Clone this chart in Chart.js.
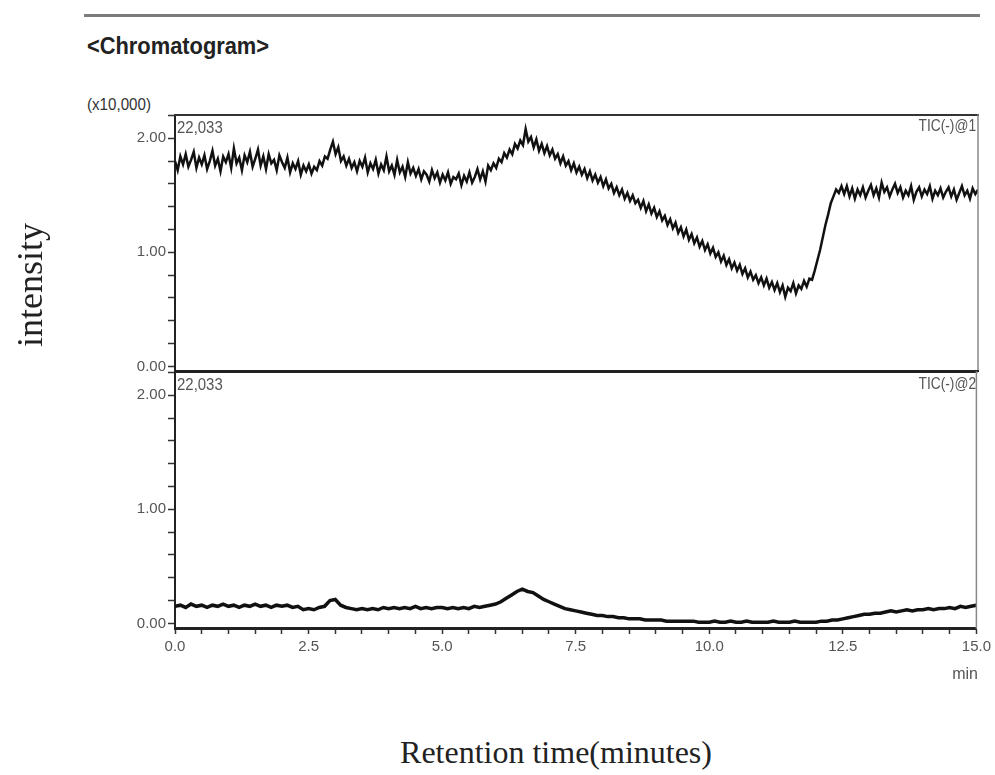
<!DOCTYPE html>
<html>
<head>
<meta charset="utf-8">
<script src="https://cdn.jsdelivr.net/npm/chart.js@4.4.1/dist/chart.umd.min.js"></script>
<style>
  html, body { margin:0; padding:0; background:#fff; }
  body { width:995px; height:775px; position:relative; overflow:hidden;
         font-family:'Liberation Sans',Arial,sans-serif; }
  .t { position:absolute; white-space:nowrap; }
  canvas { position:absolute; left:0; }
  #rule { position:absolute; left:84px; top:14px; width:896px; height:3px; background:#7c7c7c; }
  #title { left:87px; top:34px; font-size:24px; line-height:24px; font-weight:bold; color:#222;
           transform:scaleX(0.91); transform-origin:left center; }
  #mult { left:87px; top:96px; font-size:17px; line-height:17px; color:#333;
          transform:scaleX(0.89); transform-origin:left center; }
  .lab { font-size:17px; line-height:17px; color:#555; z-index:3; }
  .labl { transform:scaleX(0.88); transform-origin:left center; }
  .labr { transform:scaleX(0.81); transform-origin:right center; }
  #ylab { left:30px; top:285px; font-family:'Liberation Serif','Times New Roman',serif; font-size:36px; line-height:36px;
          color:#222; transform:translate(-50%,-50%) rotate(-90deg); }
  #xlab { left:556px; top:736px; font-family:'Liberation Serif','Times New Roman',serif; font-size:32px; line-height:32px;
          color:#222; transform:translateX(-50%); }
  #min { right:17px; top:666px; font-size:16px; line-height:16px; color:#555; }
</style>
</head>
<body>
<div id="rule"></div>
<div class="t" id="title">&lt;Chromatogram&gt;</div>
<div class="t" id="mult">(x10,000)</div>
<canvas id="c1" width="995" height="285" style="top:100px"></canvas>
<canvas id="c2" width="995" height="330" style="top:360px"></canvas>
<div class="t lab labl" style="left:177px; top:119px">22,033</div>
<div class="t lab labr" style="right:19px; top:117px">TIC(-)@1</div>
<div class="t lab labl" style="left:177px; top:376px">22,033</div>
<div class="t lab labr" style="right:19px; top:375px">TIC(-)@2</div>
<div class="t" id="min">min</div>
<div class="t" id="ylab">intensity</div>
<div class="t" id="xlab">Retention time(minutes)</div>
<script>
// Retention time (minutes) for TIC(-)@1, every 0.05 min
const times1 = [
  0,0.05,0.1,0.15,0.2,0.25,0.3,0.35,0.4,0.45,
  0.5,0.55,0.6,0.65,0.7,0.75,0.8,0.85,0.9,0.95,
  1,1.05,1.1,1.15,1.2,1.25,1.3,1.35,1.4,1.45,
  1.5,1.55,1.6,1.65,1.7,1.75,1.8,1.85,1.9,1.95,
  2,2.05,2.1,2.15,2.2,2.25,2.3,2.35,2.4,2.45,
  2.5,2.55,2.6,2.65,2.7,2.75,2.8,2.85,2.9,2.95,
  3,3.05,3.1,3.15,3.2,3.25,3.3,3.35,3.4,3.45,
  3.5,3.55,3.6,3.65,3.7,3.75,3.8,3.85,3.9,3.95,
  4,4.05,4.1,4.15,4.2,4.25,4.3,4.35,4.4,4.45,
  4.5,4.55,4.6,4.65,4.7,4.75,4.8,4.85,4.9,4.95,
  5,5.05,5.1,5.15,5.2,5.25,5.3,5.35,5.4,5.45,
  5.5,5.55,5.6,5.65,5.7,5.75,5.8,5.85,5.9,5.95,
  6,6.05,6.1,6.15,6.2,6.25,6.3,6.35,6.4,6.45,
  6.5,6.55,6.6,6.65,6.7,6.75,6.8,6.85,6.9,6.95,
  7,7.05,7.1,7.15,7.2,7.25,7.3,7.35,7.4,7.45,
  7.5,7.55,7.6,7.65,7.7,7.75,7.8,7.85,7.9,7.95,
  8,8.05,8.1,8.15,8.2,8.25,8.3,8.35,8.4,8.45,
  8.5,8.55,8.6,8.65,8.7,8.75,8.8,8.85,8.9,8.95,
  9,9.05,9.1,9.15,9.2,9.25,9.3,9.35,9.4,9.45,
  9.5,9.55,9.6,9.65,9.7,9.75,9.8,9.85,9.9,9.95,
  10,10.05,10.1,10.15,10.2,10.25,10.3,10.35,10.4,10.45,
  10.5,10.55,10.6,10.65,10.7,10.75,10.8,10.85,10.9,10.95,
  11,11.05,11.1,11.15,11.2,11.25,11.3,11.35,11.4,11.45,
  11.5,11.55,11.6,11.65,11.7,11.75,11.8,11.85,11.9,11.95,
  12,12.05,12.1,12.15,12.2,12.25,12.3,12.35,12.4,12.45,
  12.5,12.55,12.6,12.65,12.7,12.75,12.8,12.85,12.9,12.95,
  13,13.05,13.1,13.15,13.2,13.25,13.3,13.35,13.4,13.45,
  13.5,13.55,13.6,13.65,13.7,13.75,13.8,13.85,13.9,13.95,
  14,14.05,14.1,14.15,14.2,14.25,14.3,14.35,14.4,14.45,
  14.5,14.55,14.6,14.65,14.7,14.75,14.8,14.85,14.9,14.95,
  15
];
// TIC(-)@1 intensity (x10,000)
const tic1 = [
  1.80,1.72,1.84,1.77,1.86,1.75,1.81,1.88,1.74,1.83,
  1.77,1.85,1.73,1.80,1.89,1.76,1.82,1.71,1.84,1.79,
  1.86,1.74,1.91,1.78,1.83,1.72,1.85,1.79,1.88,1.75,
  1.82,1.90,1.76,1.84,1.73,1.86,1.78,1.81,1.72,1.85,
  1.79,1.74,1.83,1.70,1.78,1.73,1.80,1.68,1.76,1.71,
  1.77,1.69,1.75,1.72,1.80,1.76,1.84,1.82,1.90,1.97,
  1.86,1.92,1.80,1.84,1.76,1.82,1.74,1.79,1.71,1.80,
  1.75,1.83,1.70,1.78,1.73,1.81,1.69,1.77,1.72,1.84,
  1.71,1.76,1.68,1.81,1.70,1.75,1.66,1.79,1.69,1.74,
  1.67,1.73,1.64,1.71,1.68,1.62,1.72,1.65,1.70,1.61,
  1.68,1.63,1.70,1.60,1.66,1.64,1.69,1.59,1.67,1.62,
  1.70,1.61,1.66,1.73,1.64,1.71,1.62,1.76,1.72,1.78,
  1.74,1.82,1.79,1.87,1.83,1.90,1.86,1.95,1.91,1.98,
  1.94,2.08,1.97,2.01,1.92,1.99,1.89,1.95,1.87,1.93,
  1.85,1.90,1.82,1.86,1.78,1.84,1.76,1.80,1.72,1.78,
  1.70,1.75,1.68,1.73,1.65,1.71,1.63,1.68,1.61,1.66,
  1.58,1.64,1.56,1.60,1.52,1.57,1.50,1.55,1.47,1.52,
  1.45,1.50,1.43,1.46,1.39,1.45,1.36,1.42,1.34,1.39,
  1.31,1.36,1.28,1.32,1.24,1.29,1.21,1.26,1.17,1.22,
  1.14,1.20,1.11,1.16,1.08,1.13,1.05,1.10,1.02,1.07,
  0.99,1.04,0.96,1.00,0.92,0.97,0.89,0.94,0.86,0.91,
  0.84,0.89,0.81,0.86,0.78,0.83,0.76,0.80,0.73,0.78,
  0.71,0.77,0.69,0.74,0.67,0.73,0.65,0.71,0.61,0.69,
  0.66,0.73,0.64,0.71,0.68,0.75,0.70,0.77,0.76,0.84,
  0.93,1.02,1.13,1.24,1.33,1.43,1.49,1.55,1.52,1.58,
  1.51,1.58,1.49,1.56,1.47,1.55,1.50,1.57,1.48,1.54,
  1.59,1.50,1.56,1.48,1.61,1.53,1.57,1.49,1.55,1.60,
  1.52,1.57,1.48,1.54,1.50,1.58,1.46,1.53,1.57,1.49,
  1.55,1.51,1.58,1.47,1.54,1.50,1.56,1.48,1.53,1.57,
  1.49,1.55,1.46,1.52,1.58,1.50,1.54,1.47,1.56,1.51,
  1.55
];
// Retention time (minutes) for TIC(-)@2, every 0.1 min
const times2 = [
  0,0.1,0.2,0.3,0.4,0.5,0.6,0.7,0.8,0.9,
  1,1.1,1.2,1.3,1.4,1.5,1.6,1.7,1.8,1.9,
  2,2.1,2.2,2.3,2.4,2.5,2.6,2.7,2.8,2.9,
  3,3.1,3.2,3.3,3.4,3.5,3.6,3.7,3.8,3.9,
  4,4.1,4.2,4.3,4.4,4.5,4.6,4.7,4.8,4.9,
  5,5.1,5.2,5.3,5.4,5.5,5.6,5.7,5.8,5.9,
  6,6.1,6.2,6.3,6.4,6.5,6.6,6.7,6.8,6.9,
  7,7.1,7.2,7.3,7.4,7.5,7.6,7.7,7.8,7.9,
  8,8.1,8.2,8.3,8.4,8.5,8.6,8.7,8.8,8.9,
  9,9.1,9.2,9.3,9.4,9.5,9.6,9.7,9.8,9.9,
  10,10.1,10.2,10.3,10.4,10.5,10.6,10.7,10.8,10.9,
  11,11.1,11.2,11.3,11.4,11.5,11.6,11.7,11.8,11.9,
  12,12.1,12.2,12.3,12.4,12.5,12.6,12.7,12.8,12.9,
  13,13.1,13.2,13.3,13.4,13.5,13.6,13.7,13.8,13.9,
  14,14.1,14.2,14.3,14.4,14.5,14.6,14.7,14.8,14.9,
  15
];
// TIC(-)@2 intensity (x10,000)
const tic2 = [
  0.15,0.16,0.14,0.17,0.15,0.16,0.14,0.16,0.15,0.17,
  0.15,0.16,0.14,0.16,0.15,0.17,0.15,0.16,0.14,0.16,
  0.15,0.16,0.14,0.15,0.12,0.13,0.12,0.14,0.15,0.20,
  0.21,0.16,0.14,0.13,0.12,0.13,0.12,0.13,0.12,0.14,
  0.13,0.14,0.13,0.14,0.13,0.15,0.13,0.14,0.13,0.14,
  0.14,0.13,0.14,0.13,0.14,0.13,0.15,0.14,0.15,0.16,
  0.17,0.19,0.22,0.25,0.28,0.30,0.28,0.27,0.24,0.21,
  0.19,0.17,0.15,0.13,0.12,0.11,0.10,0.09,0.08,0.07,
  0.07,0.06,0.06,0.05,0.05,0.04,0.04,0.04,0.03,0.03,
  0.03,0.03,0.02,0.02,0.02,0.02,0.02,0.02,0.01,0.01,
  0.01,0.02,0.01,0.01,0.02,0.01,0.01,0.02,0.01,0.01,
  0.01,0.01,0.02,0.01,0.01,0.01,0.02,0.01,0.01,0.01,
  0.01,0.02,0.02,0.03,0.03,0.04,0.05,0.06,0.07,0.08,
  0.08,0.09,0.09,0.10,0.11,0.10,0.11,0.12,0.11,0.12,
  0.12,0.13,0.12,0.13,0.13,0.14,0.13,0.15,0.14,0.15,
  0.16
];
const yTicks = [0,0.2,0.4,0.6,0.8,1.0,1.2,1.4,1.6,1.8,2.0,2.2];
const yTickLabels = ['0.00','','','','','1.00','','','','','2.00',''];
const xTicks = [0,0.5,1,1.5,2,2.5,3,3.5,4,4.5,5,5.5,6,6.5,7,7.5,8,8.5,9,9.5,10,10.5,11,11.5,12,12.5,13,13.5,14,14.5,15];
const xTickLabels = ['0.0','','','','','2.5','','','','','5.0','','','','','7.5','','','','','10.0','','','','','12.5','','','','','15.0'];
const yMin = -0.04, yMax = 2.2033;
const xMin = 0, xMax = 15;

const FONT = "'Liberation Sans',Arial,sans-serif";

const framePlugin = {
  id: 'frame',
  afterDraw(chart, args, o) {
    const {ctx, chartArea: a} = chart;
    ctx.save();
    ctx.lineCap = 'square';
    ctx.strokeStyle = o.topColor; ctx.lineWidth = o.topWidth;
    ctx.beginPath(); ctx.moveTo(a.left, a.top); ctx.lineTo(a.right, a.top); ctx.stroke();
    ctx.strokeStyle = o.rightColor; ctx.lineWidth = o.rightWidth;
    ctx.beginPath(); ctx.moveTo(a.right, a.top); ctx.lineTo(a.right, a.bottom); ctx.stroke();
    if (o.bottom) {
      ctx.strokeStyle = o.bottomColor; ctx.lineWidth = o.bottomWidth;
      ctx.beginPath(); ctx.moveTo(a.left, a.bottom); ctx.lineTo(a.right, a.bottom); ctx.stroke();
    }
    ctx.restore();
  }
};

function yScale() {
  return {
    type: 'linear', min: yMin, max: yMax,
    afterFit: s => { s.width = 175; },
    afterBuildTicks: s => { s.ticks = yTicks.map(v => ({value: v})); },
    ticks: {
      autoSkip: false, padding: 2, color: '#555',
      font: {family: FONT, size: 15},
      callback: (v, i) => yTickLabels[i]
    },
    grid: {display: true, drawOnChartArea: false, drawTicks: true, tickLength: 7, tickColor: '#333', tickWidth: 1.5},
    border: {display: true, color: '#222', width: 2}
  };
}

function makeChart(id, times, data, width, frame, showX, padding) {
  const scales = {
    x: showX ? {
      type: 'linear', min: xMin, max: xMax,
      afterFit: s => { s.height = 62; },
      afterBuildTicks: s => { s.ticks = xTicks.map(v => ({value: v})); },
      ticks: {
        autoSkip: false, maxRotation: 0, minRotation: 0, padding: 4, color: '#555',
        font: {family: FONT, size: 15},
        callback: (v, i) => xTickLabels[i]
      },
      grid: {display: true, drawOnChartArea: false, drawTicks: true, tickLength: 6, tickColor: '#333', tickWidth: 1.5},
      border: {display: true, color: '#222', width: 3}
    } : {type: 'linear', min: xMin, max: xMax, display: false},
    y: yScale()
  };
  return new Chart(document.getElementById(id), {
    type: 'line',
    data: {
      datasets: [{
        data: times.map((t, i) => ({x: t, y: data[i]})),
        borderColor: '#111', borderWidth: width,
        pointRadius: 0, tension: 0, fill: false
      }]
    },
    options: {
      responsive: false, animation: false, devicePixelRatio: 1,
      layout: {padding: padding},
      plugins: {legend: {display: false}, tooltip: {enabled: false}, frame: frame},
      scales: scales
    },
    plugins: [framePlugin]
  });
}

makeChart('c1', times1, tic1, 2.5,
  {topColor: '#333', topWidth: 2, rightColor: '#888', rightWidth: 1.5, bottom: true, bottomColor: '#222', bottomWidth: 2},
  false, {top: 15, right: 17, bottom: 14, left: 0});
makeChart('c2', times2, tic2, 3.5,
  {topColor: '#222', topWidth: 2, rightColor: '#888', rightWidth: 1.5, bottom: false},
  true, {top: 12, right: 17, bottom: 0, left: 0});
</script>
</body>
</html>
